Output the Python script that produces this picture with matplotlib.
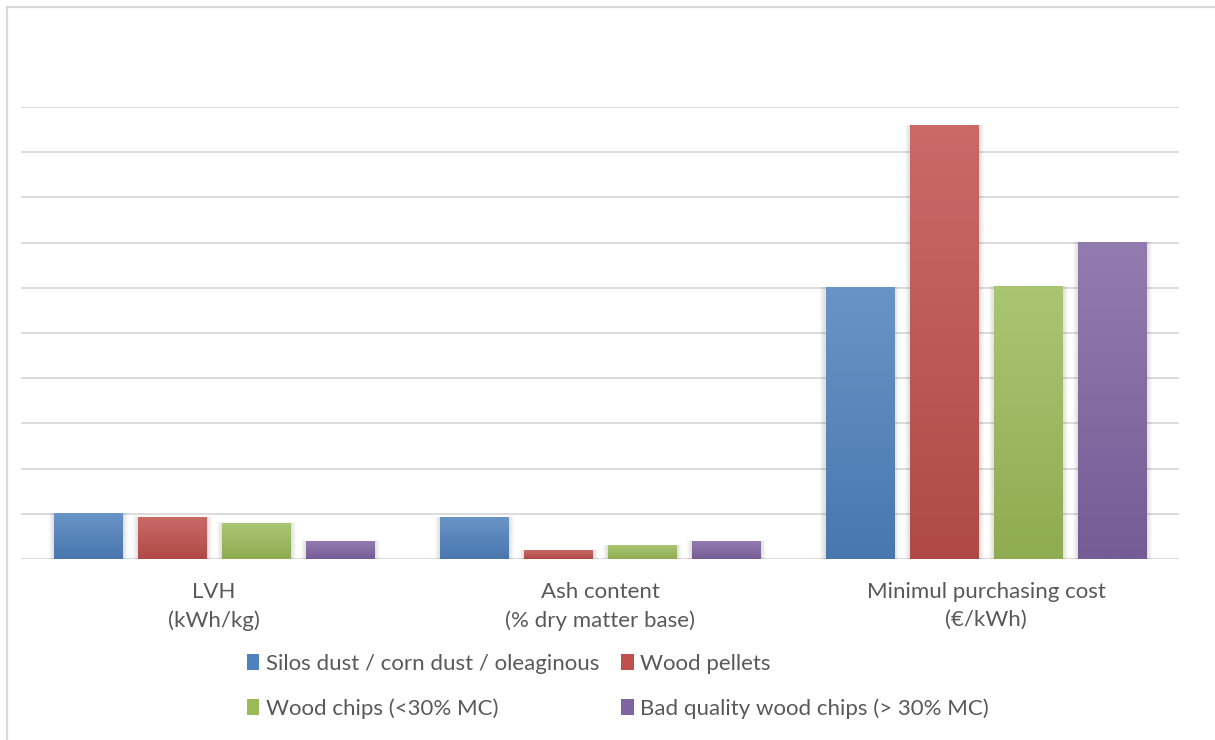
import matplotlib.pyplot as plt
from matplotlib.patches import Rectangle, Patch
import matplotlib.colors as mcolors
import numpy as np

plt.rcParams['font.family'] = ['Lato', 'DejaVu Sans']

CATEGORIES = ["LVH\n(kWh/kg)", "Ash content\n(% dry matter base)",
              "Minimul purchasing cost\n(€/kWh)"]
SERIES = ["Silos dust / corn dust / oleaginous", "Wood pellets",
          "Wood chips (<30% MC)", "Bad quality wood chips (> 30% MC)"]
COLORS = ["#4f81bd", "#c0504d", "#9bbb59", "#8064a2"]

# values in gridline units (axis labels are hidden in the original)
SILOS_DUST = [1.0, 0.91, 6.0]
WOOD_PELLETS = [0.92, 0.18, 9.58]
WOOD_CHIPS = [0.79, 0.29, 6.02]
BAD_WOOD_CHIPS = [0.39, 0.38, 7.0]

W, H = 1215, 740
fig = plt.figure(figsize=(W / 100, H / 100), dpi=100)
ax = fig.add_axes([21 / W, 1 - 559 / H, (1179 - 21) / W, (559 - 107) / H])

# chart border (only left/top visible in the crop)
fig.patches.append(Rectangle((6.5 / W, -0.1), 1.2, 1 - 6.5 / H + 0.1,
                             transform=fig.transFigure, fill=False,
                             edgecolor="#d9d9d9", lw=1.6))


def shade(c, f):
    rgb = np.array(mcolors.to_rgb(c))
    if f > 0:
        return rgb + (1 - rgb) * f
    return rgb * (1 + f)


x = np.arange(len(CATEGORIES))
n = 4
step = 84 / 386
width = 69 / 386
all_vals = [SILOS_DUST, WOOD_PELLETS, WOOD_CHIPS, BAD_WOOD_CHIPS]

px_x = 1 / 386
px_y = 1 / 45.2

for i, (vals, col) in enumerate(zip(all_vals, COLORS)):
    offs = (i - (n - 1) / 2) * step
    bars = ax.bar(x + offs, vals, width, color=col, zorder=3, linewidth=0)
    top = shade(col, 0.15)
    bot = shade(col, -0.08)
    grad = np.linspace(0, 1, 64)[:, None, None] * (bot - top) + top
    for b in bars:
        bx, bw, bh = b.get_x(), b.get_width(), b.get_height()
        # soft shadow
        for k in range(1, 6):
            ax.add_patch(Rectangle((bx - k * px_x, -k * px_y * 0.3),
                                   bw + 2 * k * px_x, bh + k * px_y * 0.5,
                                   color="#000000", alpha=0.025, lw=0,
                                   zorder=2))
        ax.imshow(grad, extent=[bx, bx + bw, 0, bh], aspect="auto",
                  zorder=4, interpolation="bilinear")

ax.set_xlim(-0.5, 2.5)
ax.set_ylim(0, 10)
ax.set_yticks(np.arange(0, 11, 1))
ax.yaxis.grid(True, color="#d9d9d9", lw=1.3, zorder=0)
ax.set_axisbelow(True)
ax.tick_params(axis="y", left=False, labelleft=False)
ax.tick_params(axis="x", bottom=False, pad=13)
ax.set_xticks(x)
ax.set_xticklabels(CATEGORIES, fontsize=16, color="#595959", linespacing=1.5)
for s in ax.spines.values():
    s.set_visible(False)
ax.set_facecolor("none")

order = [0, 2, 1, 3]
handles = [Patch(facecolor=COLORS[i], edgecolor="none") for i in order]
labels = [SERIES[i] for i in order]
fig.legend(handles, labels, ncol=2, loc="upper left",
           bbox_to_anchor=(247 / W, 1 - 654 / H), frameon=False,
           fontsize=16, labelcolor="#595959", handlelength=0.55,
           handleheight=0.75, handletextpad=0.3, labelspacing=1.08,
           columnspacing=1.0, borderpad=0, borderaxespad=0)

fig.savefig("out.png", dpi=100)
